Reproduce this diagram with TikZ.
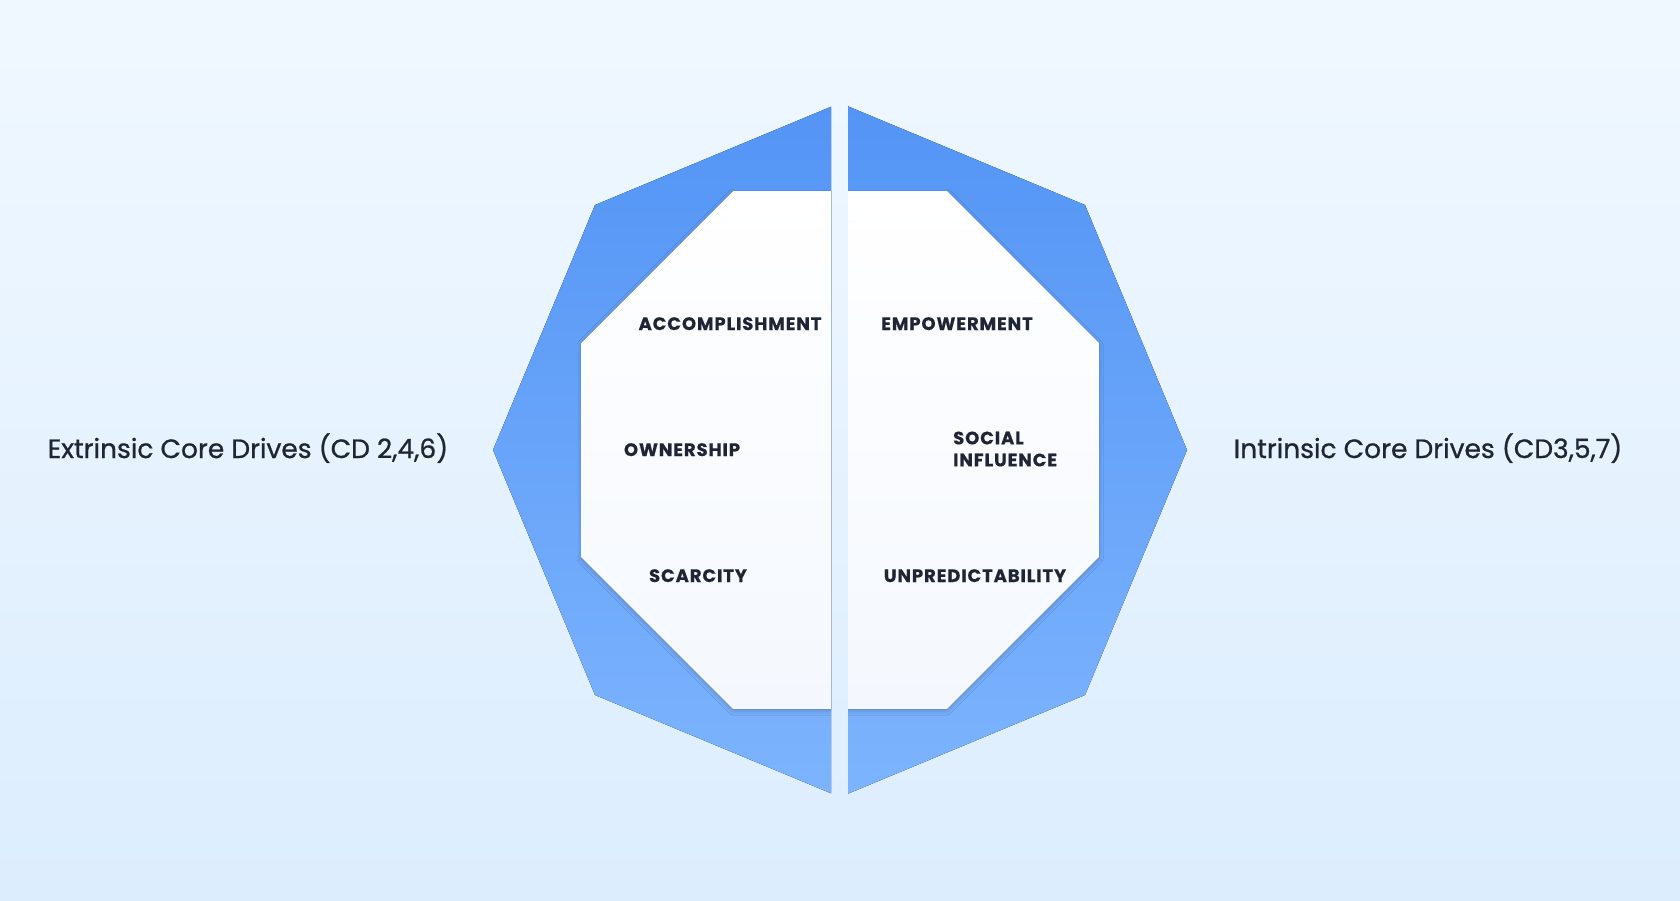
\documentclass[tikz,border=0pt]{standalone}
\usepackage{fontspec}
\setmainfont{Poppins}
\newfontfamily\drivefont[LetterSpace=5, FakeBold=0.5]{Poppins}
\newfontfamily\sidefont[FakeBold=0.8]{Poppins}
\usetikzlibrary{shadows.blur}
\definecolor{bgtop}{HTML}{F0F8FF}
\definecolor{bgbot}{HTML}{DCEDFE}
\definecolor{ringtop}{HTML}{5394F5}
\definecolor{ringbot}{HTML}{7DB4FE}
\definecolor{corebot}{HTML}{F4F8FE}
\definecolor{ink}{HTML}{1F2535}
\tikzset{
  drive/.style={font=\drivefont\bfseries\fontsize{18}{22}\selectfont, text=ink, inner sep=0pt, anchor=base},
  side/.style={font=\sidefont\fontsize{26.5}{30}\selectfont, text=ink, inner sep=0pt, anchor=base},
  ring/.style={top color=ringtop, bottom color=ringbot},
  core/.style={top color=white, bottom color=corebot,
    blur shadow={shadow xshift=0pt, shadow yshift=-2pt, shadow blur radius=4pt, shadow opacity=20}}
}
\begin{document}
\begin{tikzpicture}[x=1pt, y=-1pt]
  \fill[top color=bgtop, bottom color=bgbot] (0,0) rectangle (1680,900);
  \foreach \xa/\xb in {0/831, 848/1680} {
    \begin{scope}
      \clip (\xa,0) rectangle (\xb,900);
      \fill[ring] (840,103) -- (1085,205) -- (1187,450) -- (1085,695) -- (840,797)
        -- (595,695) -- (493,450) -- (595,205) -- cycle;
      \fill[core] (733,191) -- (947,191) -- (1099,343) -- (1099,557) -- (947,709)
        -- (733,709) -- (581,557) -- (581,343) -- cycle;
    \end{scope}
  }
  \node[drive] (accomp) at (730,330) {ACCOMPLISHMENT};
  \node[drive] (empow) at (957,330) {EMPOWERMENT};
  \node[drive] (owner) at (682,456) {OWNERSHIP};
  \node[drive, anchor=west, align=left] (social) at (953,449) {SOCIAL\\INFLUENCE};
  \node[drive] (scarce) at (698,582) {SCARCITY};
  \node[drive] (unpred) at (975,582) {UNPREDICTABILITY};
  \node[side] (extr) at (248,458) {Extrinsic Core Drives (CD 2,4,6)};
  \node[side] (intr) at (1428,458) {Intrinsic Core Drives (CD3,5,7)};
\end{tikzpicture}
\end{document}
